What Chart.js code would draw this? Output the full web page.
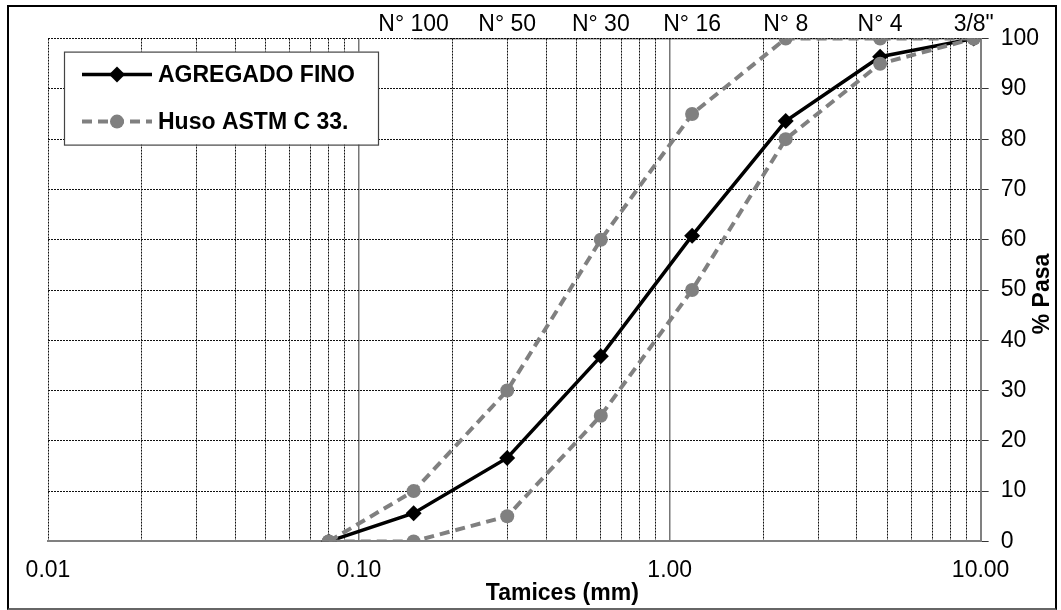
<!DOCTYPE html>
<html>
<head>
<meta charset="utf-8">
<script src="https://cdn.jsdelivr.net/npm/chart.js@4.4.1/dist/chart.umd.min.js"></script>
<style>
    html, body { margin: 0; padding: 0; background: #fff; }
    #wrap { position: relative; width: 1061px; height: 610px; }
    #frame {
        position: absolute; left: 7px; top: 5px; width: 1050px; height: 605px;
        box-sizing: border-box; border: 2px solid #000; border-bottom-color: #666;
        pointer-events: none;
    }
    #curva { position: absolute; left: 0; top: 0; }
</style>
</head>
<body>
<div id="wrap">
    <canvas id="curva" width="1061" height="610"></canvas>
    <div id="frame"></div>
</div>
<script>
// ==================== DATA ====================

// Aberturas de tamices (mm)
const sieveSizes = [0.08, 0.15, 0.3, 0.6, 1.18, 2.36, 4.75, 9.5];
// Tamices rotulados en la parte superior
const labeledSizes = [0.15, 0.3, 0.6, 1.18, 2.36, 4.75, 9.5];
const sieveNames = ['N° 100', 'N° 50', 'N° 30', 'N° 16', 'N° 8', 'N° 4', '3/8"'];

// % que pasa
const agregadoFino = [0, 5.6, 16.6, 36.8, 60.8, 83.6, 96.4, 100];
const husoSuperior = [0, 10, 30, 60, 85, 100, 100, 100];
const husoInferior = [0, 0, 5, 25, 50, 80, 95, 100];

// Ejes
const xMajorTicks = [0.01, 0.1, 1, 10];
const yTicks = [0, 10, 20, 30, 40, 50, 60, 70, 80, 90, 100];

const FONT = 'Liberation Sans, Arial, sans-serif';
const GRAY = '#808080';

const toPoints = (xs, ys) => xs.map((x, i) => ({ x: x, y: ys[i] }));

// ==================== PLUGINS ====================

// Leyenda dentro del area de trazado, con recuadro
const boxLegend = {
    id: 'boxLegend',
    afterDatasetsDraw(chart) {
        const ctx = chart.ctx;
        const area = chart.chartArea;
        const left = area.left + 16, top = area.top + 13;
        const w = 314, h = 93;
        ctx.save();
        ctx.fillStyle = '#fff';
        ctx.fillRect(left, top, w, h);
        ctx.strokeStyle = '#444';
        ctx.lineWidth = 1.2;
        ctx.strokeRect(left + 0.5, top + 0.5, w, h);

        const entries = [chart.data.datasets[0], chart.data.datasets[1]];
        entries.forEach((ds, i) => {
            const cy = top + 23 + i * 47;
            const x0 = left + 18, x1 = left + 88, cx = (x0 + x1) / 2;
            ctx.setLineDash(ds.borderDash || []);
            ctx.lineWidth = ds.borderWidth;
            ctx.strokeStyle = ds.borderColor;
            ctx.beginPath();
            ctx.moveTo(x0, cy);
            ctx.lineTo(x1, cy);
            ctx.stroke();
            ctx.setLineDash([]);
            ctx.fillStyle = ds.pointBackgroundColor;
            const r = ds.pointRadius;
            ctx.beginPath();
            if (ds.pointStyle === 'rectRot') {
                ctx.moveTo(cx, cy - r);
                ctx.lineTo(cx + r, cy);
                ctx.lineTo(cx, cy + r);
                ctx.lineTo(cx - r, cy);
                ctx.closePath();
            } else {
                ctx.arc(cx, cy, r, 0, Math.PI * 2);
            }
            ctx.fill();

            ctx.fillStyle = '#000';
            ctx.font = 'bold 23px ' + FONT;
            ctx.textBaseline = 'middle';
            ctx.textAlign = 'left';
            ctx.fillText(ds.label, left + 94, cy + 1);
        });
        ctx.restore();
    }
};

// Titulos de los ejes
const axisTitles = {
    id: 'axisTitles',
    afterDraw(chart) {
        const ctx = chart.ctx;
        const area = chart.chartArea;
        ctx.save();
        ctx.fillStyle = '#000';
        ctx.font = 'bold 23px ' + FONT;
        ctx.textAlign = 'center';
        ctx.textBaseline = 'middle';
        ctx.fillText('Tamices (mm)', (area.left + area.right) / 2 + 48, area.bottom + 52);

        ctx.translate(area.right + 62, (area.top + area.bottom) / 2 + 4);
        ctx.rotate(-Math.PI / 2);
        ctx.fillText('% Pasa', 0, 0);
        ctx.restore();
    }
};

// ==================== CHART ====================

function logGridTicks(scale) {
    const ticks = [];
    for (let d = 0.01; d < 10; d *= 10) {
        for (let m = 1; m < 10; m++) ticks.push({ value: +(m * d).toPrecision(3) });
    }
    ticks.push({ value: 10 });
    scale.ticks = ticks;
}

new Chart(document.getElementById('curva'), {
    type: 'line',
    data: {
        datasets: [
            {
                label: 'AGREGADO FINO',
                data: toPoints(sieveSizes, agregadoFino),
                borderColor: '#000',
                backgroundColor: '#000',
                pointBackgroundColor: '#000',
                pointBorderColor: '#000',
                borderWidth: 3.5,
                pointStyle: 'rectRot',
                pointRadius: 8,
                pointBorderWidth: 0,
                order: 2
            },
            {
                label: 'Huso ASTM C 33.',
                data: toPoints(sieveSizes, husoSuperior),
                borderColor: GRAY,
                backgroundColor: GRAY,
                pointBackgroundColor: GRAY,
                pointBorderColor: GRAY,
                borderWidth: 4,
                borderDash: [10, 6],
                pointStyle: 'circle',
                pointRadius: 7,
                pointBorderWidth: 0,
                order: 1
            },
            {
                label: 'Huso inferior',
                data: toPoints(sieveSizes, husoInferior),
                borderColor: GRAY,
                backgroundColor: GRAY,
                pointBackgroundColor: GRAY,
                pointBorderColor: GRAY,
                borderWidth: 4,
                borderDash: [10, 6],
                pointStyle: 'circle',
                pointRadius: 7,
                pointBorderWidth: 0,
                order: 1
            },
            {
                label: 'tamices',
                data: labeledSizes.map(x => ({ x: x, y: 100 })),
                borderColor: '#000',
                borderWidth: 1.5,
                pointRadius: 0,
                order: 3
            }
        ]
    },
    options: {
        responsive: false,
        animation: false,
        layout: { padding: { left: 48, right: 10, top: 11, bottom: 11 } },
        plugins: {
            legend: { display: false },
            tooltip: { enabled: false }
        },
        scales: {
            x: {
                type: 'logarithmic',
                position: 'bottom',
                min: 0.01,
                max: 10,
                afterBuildTicks: logGridTicks,
                ticks: {
                    autoSkip: false,
                    maxRotation: 0,
                    padding: 15,
                    color: '#000',
                    font: { family: FONT, size: 23 },
                    callback: value => xMajorTicks.includes(value) ? value.toFixed(2) : ''
                },
                grid: { color: '#111', lineWidth: 1, drawTicks: false },
                border: { display: true, color: GRAY, width: 2, dash: [2, 1] }
            },
            xMajor: {
                type: 'logarithmic',
                position: 'bottom',
                min: 0.01,
                max: 10,
                afterBuildTicks: scale => { scale.ticks = [{ value: 0.1 }, { value: 1 }]; },
                ticks: { display: false },
                grid: { color: '#777', lineWidth: 1.5, drawTicks: false },
                border: { display: false }
            },
            xTop: {
                type: 'logarithmic',
                position: 'top',
                min: 0.01,
                max: 10,
                afterBuildTicks: scale => { scale.ticks = labeledSizes.map(v => ({ value: v })); },
                ticks: {
                    autoSkip: false,
                    maxRotation: 0,
                    padding: 0,
                    color: '#000',
                    font: { family: FONT, size: 23 },
                    callback: (value, i) => sieveNames[i]
                },
                grid: { display: false, drawTicks: false },
                border: { display: false }
            },
            y: {
                type: 'linear',
                position: 'right',
                min: 0,
                max: 100,
                afterBuildTicks: scale => { scale.ticks = yTicks.map(v => ({ value: v })); },
                ticks: {
                    padding: 12,
                    color: '#000',
                    font: { family: FONT, size: 23 }
                },
                grid: { color: '#111', lineWidth: 1, tickLength: 8, tickColor: '#333', tickBorderDash: [] },
                border: { display: true, color: GRAY, width: 2, dash: [2, 1] }
            }
        }
    },
    plugins: [boxLegend, axisTitles]
});
</script>
</body>
</html>
